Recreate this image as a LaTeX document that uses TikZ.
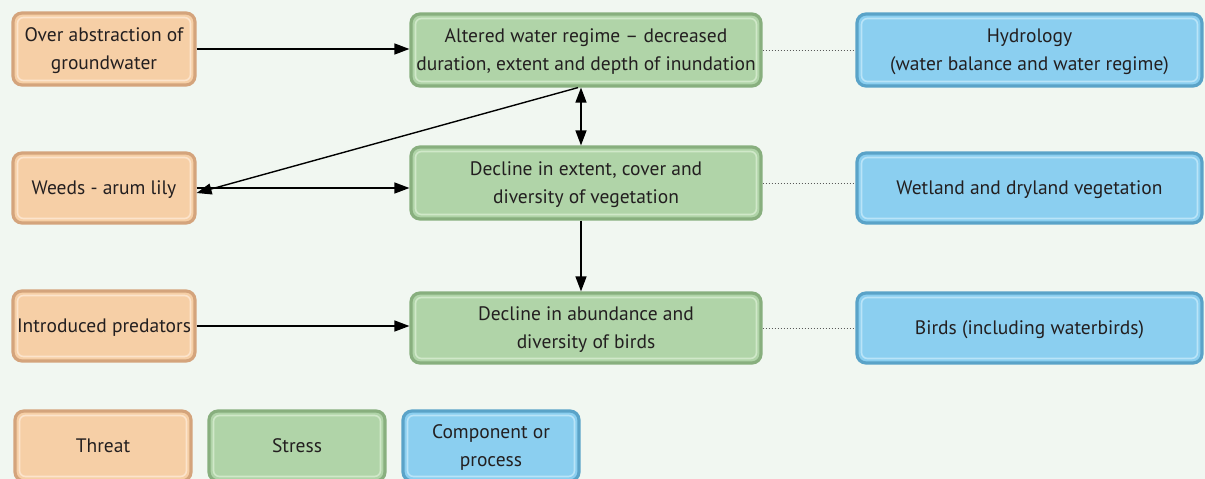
\documentclass[tikz,border=0pt]{standalone}
\usepackage{fontspec}
\setmainfont{PT Sans}
\usetikzlibrary{arrows.meta}
\definecolor{bg}{HTML}{F1F7F1}
\definecolor{ofill}{HTML}{F6CFA6}
\definecolor{oedge}{HTML}{D4A47C}
\definecolor{oin}{HTML}{FCE4CC}
\definecolor{gfill}{HTML}{B0D4A8}
\definecolor{gedge}{HTML}{88AF7E}
\definecolor{gin}{HTML}{D0E8C9}
\definecolor{bfill}{HTML}{8BCFF0}
\definecolor{bedge}{HTML}{5AA3C8}
\definecolor{bin}{HTML}{B9E4F8}
\definecolor{txt}{HTML}{231F20}
\tikzset{
  box/.style n args={3}{rounded corners=9pt, line width=3.2pt, draw=#2, fill=#1,
    align=center, inner sep=0pt, text=txt, text depth=0pt,
    font=\fontsize{19.5}{28}\selectfont,
    path picture={\draw[#3, line width=1.6pt, rounded corners=6pt]
      ([shift={(4.5pt,4.5pt)}]path picture bounding box.south west) rectangle
      ([shift={(-4.5pt,-4.5pt)}]path picture bounding box.north east);}},
  threat/.style={box={ofill}{oedge}{oin}, minimum width=182pt},
  stressbox/.style={box={gfill}{gedge}{gin}, minimum width=350pt},
  comp/.style={box={bfill}{bedge}{bin}, minimum width=345pt},
  arr/.style={line width=1.4pt, -{Triangle[length=15pt,width=11pt]}},
  dots/.style={black!65, line width=1pt, dash pattern=on 1pt off 2pt},
}
\begin{document}
\begin{tikzpicture}[x=1pt,y=-1pt]
\fill[bg] (0,0) rectangle (1205,479);
\useasboundingbox (0,0) rectangle (1205,479);
% threats
\node[threat, minimum height=72pt] (o1) at (104,49) {Over abstraction of\\groundwater};
\node[threat, minimum height=70pt] (o2) at (104,188) {Weeds - arum lily};
\node[threat, minimum height=70pt] (o3) at (104,326) {Introduced predators};
% stresses
\node[stressbox, minimum height=72pt] (g1) at (586,50) {Altered water regime -- decreased\\duration, extent and depth of inundation};
\node[stressbox, minimum height=72pt] (g2) at (586,183) {Decline in extent, cover and\\diversity of vegetation};
\node[stressbox, minimum height=70pt] (g3) at (586,328) {Decline in abundance and\\diversity of birds};
% components
\node[comp, minimum height=72pt] (b1) at (1029.5,50) {Hydrology\\(water balance and water regime)};
\node[comp, minimum height=70pt] (b2) at (1029.5,188) {Wetland and dryland vegetation};
\node[comp, minimum height=70pt] (b3) at (1029.5,328) {Birds (including waterbirds)};
% legend
\node[box={ofill}{oedge}{oin}, minimum width=176pt, minimum height=70pt] (l1) at (103,446) {Threat};
\node[box={gfill}{gedge}{gin}, minimum width=176pt, minimum height=70pt] (l2) at (297,446) {Stress};
\node[box={bfill}{bedge}{bin}, minimum width=176pt, minimum height=70pt] (l3) at (491,446) {Component or\\process};
% connectors
\draw[arr] (o1.east) -- (g1.west |- o1.east);
\draw[arr] (o2.east) -- (g2.west |- o2.east);
\draw[arr] (o3.east) -- (g3.west |- o3.east);
\coordinate (gs) at ([xshift=-8pt]g1.south);
\draw[arr] (gs) -- ([yshift=-5pt]o2.east);
\draw[arr, {Triangle[length=15pt,width=11pt]}-{Triangle[length=15pt,width=11pt]}] ([xshift=-5pt]g1.south) -- ([xshift=-5pt]g2.north);
\draw[arr] ([xshift=-5pt]g2.south) -- ([xshift=-5pt]g3.north);
\draw[dots] (g1.east) -- (b1.west);
\draw[dots] (g2.east) -- (b2.west |- g2.east);
\draw[dots] (g3.east) -- (b3.west |- g3.east);
\end{tikzpicture}
\end{document}
